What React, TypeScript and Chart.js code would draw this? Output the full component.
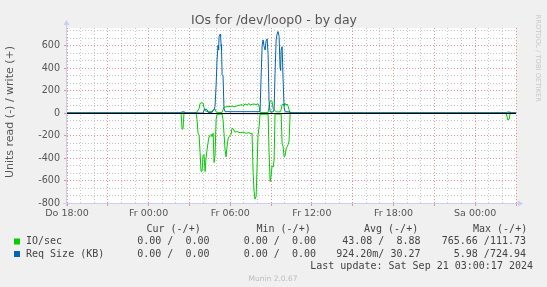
import React, { useEffect, useRef } from 'react';
import { Chart, registerables } from 'chart.js';

Chart.register(...registerables);

// ---- axis definitions (x = hours since Thu 18:00) ----
const xStartHour = 0;
const xEndHour = 33;
const xLabelHours = [0, 6, 12, 18, 24, 30];
const xLabels = ['Do 18:00', 'Fr 00:00', 'Fr 06:00', 'Fr 12:00', 'Fr 18:00', 'Sa 00:00'];
const yMin = -800;
const yMax = 756;
const yMajorStep = 200;

// ---- IO/sec write (+) ----
const ioWriteTimes = [0, 9.49, 9.71, 9.78, 9.93, 10.0, 10.07, 10.15, 10.29, 10.51, 10.66, 10.81, 10.88, 10.96, 11.1, 11.4, 11.47, 11.54, 11.69, 11.84, 11.99, 12.13, 12.28, 12.43, 12.57, 12.72, 12.87, 12.94, 13.09, 13.24, 13.38, 13.46, 13.6, 13.75, 13.9, 14.04, 14.12, 14.19, 14.78, 14.85, 14.93, 15.0, 15.07, 15.15, 15.22, 15.29, 15.37, 15.66, 15.74, 15.81, 15.88, 15.96, 16.03, 16.1, 16.18, 16.25, 16.32, 16.4, 33];
const ioWriteValues = [0, 0, 40, 85, 92, 88, 50, 20, 15, 10, 15, 30, 35, 10, 5, 5, 30, 50, 55, 60, 58, 62, 55, 60, 68, 70, 75, 65, 80, 72, 85, 70, 78, 80, 75, 82, 60, 5, 5, 60, 105, 112, 100, 40, 30, 20, 10, 10, 30, 75, 80, 65, 85, 70, 80, 60, 30, 0, 0];

// ---- IO/sec read (-) ----
const ioReadTimes = [0, 8.38, 8.46, 8.53, 8.6, 9.49, 9.56, 9.63, 9.71, 9.78, 9.85, 9.93, 10.0, 10.07, 10.15, 10.22, 10.29, 10.37, 10.44, 10.51, 10.59, 10.66, 10.74, 10.81, 10.88, 10.96, 11.03, 11.4, 11.47, 11.54, 11.62, 11.69, 11.76, 11.84, 11.91, 12.06, 12.13, 12.21, 12.35, 12.5, 12.72, 12.94, 13.16, 13.38, 13.53, 13.6, 13.68, 13.75, 13.82, 13.9, 13.97, 14.04, 14.12, 14.19, 14.78, 14.85, 14.93, 15.0, 15.07, 15.15, 15.22, 15.29, 15.74, 15.81, 15.88, 15.96, 16.03, 16.1, 16.18, 16.25, 16.32, 16.4, 32.28, 32.39, 32.5, 32.57, 33];
const ioReadValues = [0, 0, 145, 140, 0, 0, 60, 180, 200, 350, 520, 515, 380, 370, 520, 400, 330, 260, 210, 200, 190, 210, 180, 440, 380, 60, 10, 10, 60, 180, 330, 390, 300, 230, 210, 190, 135, 140, 170, 165, 175, 170, 180, 175, 185, 180, 530, 700, 766, 740, 480, 200, 120, 10, 10, 350, 610, 560, 470, 480, 420, 10, 10, 270, 300, 390, 380, 320, 300, 280, 250, 0, 0, 60, 55, 0, 0];

// ---- Req Size (KB) write (+) ----
const reqWriteTimes = [0, 8.38, 8.43, 8.64, 8.68, 10.0, 10.07, 10.22, 10.29, 10.37, 10.66, 10.74, 10.81, 10.88, 10.96, 11.03, 11.1, 11.14, 11.18, 11.25, 11.29, 11.32, 11.36, 11.4, 11.47, 11.54, 11.62, 14.12, 14.19, 14.26, 14.34, 14.41, 14.49, 14.56, 14.63, 14.71, 14.78, 14.85, 14.93, 15.15, 15.22, 15.29, 15.37, 15.44, 15.51, 15.59, 15.66, 15.7, 15.74, 15.81, 15.88, 15.96, 16.03, 16.4, 16.47, 32.28, 32.35, 32.57, 32.65, 33];
const reqWriteValues = [0, 0, 10, 10, 0, 0, 25, 35, 30, 5, 5, 25, 30, 60, 250, 480, 600, 560, 680, 700, 690, 610, 560, 340, 330, 40, 12, 12, 15, 300, 600, 650, 590, 560, 640, 660, 520, 100, 10, 10, 30, 350, 650, 700, 725, 680, 400, 380, 560, 590, 300, 50, 12, 10, 0, 0, 8, 8, 0, 0];

// ---- Req Size (KB) read (-) ----
const reqReadTimes = [0, 8.38, 8.46, 8.6, 9.56, 9.85, 10.81, 11.62, 13.82, 14.93, 15.96, 16.4, 32.28, 32.42, 32.57, 33];
const reqReadValues = [0, 0, 4, 0, 0, 5, 4, 5, 6, 5, 4, 0, 0, 4, 0, 0];

// ---- legend texts ----
const legendHeaders = ['Cur (-/+)', 'Min (-/+)', 'Avg (-/+)', 'Max (-/+)'];
const seriesNames = ['IO/sec', 'Req Size (KB)'];
const seriesColors = ['#00CC00', '#0066B3'];
const ioSecStats = ['0.00 /  0.00', '0.00 /  0.00', '43.08 /  8.88', '765.66 /111.73'];
const reqSizeStats = ['0.00 /  0.00', '0.00 /  0.00', '924.20m/ 30.27', '5.98 /724.94'];
const titleText = 'IOs for /dev/loop0 - by day';
const yAxisTitle = 'Units read (-) / write (+)';
const lastUpdate = 'Last update: Sat Sep 21 03:00:17 2024';
const footer = 'Munin 2.0.67';
const sideText = 'RRDTOOL / TOBI OETIKER';

const MAJOR = 'rgba(226,110,110,0.75)';
const MINOR = '#c9c9c9';
const AXIS = '#C8CEF4';
const TEXT = '#555555';

function toPoints(times: number[], values: number[], sign: number) {
  return times.map((t, i) => ({ x: t, y: sign * values[i] }));
}

const decorPlugin = {
  id: 'muninDecor',
  beforeDraw(chart: any) {
    const { ctx, chartArea: a } = chart;
    ctx.save();
    ctx.fillStyle = '#F0F0F0';
    ctx.fillRect(0, 0, chart.width, chart.height);
    ctx.fillStyle = '#FFFFFF';
    ctx.fillRect(a.left, a.top, a.right - a.left, a.bottom - a.top);
    ctx.restore();
  },
  afterDatasetsDraw(chart: any) {
    const { ctx, chartArea: a, scales } = chart;
    const y0 = Math.round(scales.y.getPixelForValue(0)) + 0.5;
    ctx.save();
    ctx.strokeStyle = '#000000';
    ctx.lineWidth = 1;
    ctx.beginPath();
    ctx.moveTo(a.left, y0);
    ctx.lineTo(a.right, y0);
    ctx.stroke();
    ctx.restore();
  },
  afterDraw(chart: any) {
    const { ctx, chartArea: a } = chart;
    ctx.save();
    // axes with arrows
    const ax = a.left - 0.5;
    const ay = a.bottom + 0.5;
    ctx.strokeStyle = AXIS;
    ctx.fillStyle = AXIS;
    ctx.lineWidth = 1;
    ctx.beginPath();
    ctx.moveTo(ax, a.bottom + 3);
    ctx.lineTo(ax, a.top - 3);
    ctx.moveTo(a.left - 4, ay);
    ctx.lineTo(a.right + 2, ay);
    ctx.stroke();
    ctx.beginPath();
    ctx.moveTo(ax, a.top - 8);
    ctx.lineTo(ax - 3, a.top - 3);
    ctx.lineTo(ax + 3, a.top - 3);
    ctx.closePath();
    ctx.fill();
    ctx.beginPath();
    ctx.moveTo(a.right + 7, ay);
    ctx.lineTo(a.right + 2, ay - 3);
    ctx.lineTo(a.right + 2, ay + 3);
    ctx.closePath();
    ctx.fill();

    // title
    ctx.fillStyle = TEXT;
    ctx.font = '12.5px "DejaVu Sans"';
    ctx.textAlign = 'center';
    ctx.textBaseline = 'middle';
    ctx.fillText(titleText, 274, 21);

    // y axis title
    ctx.save();
    ctx.translate(10, 112);
    ctx.rotate(-Math.PI / 2);
    ctx.font = '11px "DejaVu Sans"';
    ctx.fillText(yAxisTitle, 0, 0);
    ctx.restore();

    // side text
    ctx.save();
    ctx.translate(538, 14.5);
    ctx.rotate(Math.PI / 2);
    ctx.font = '6.8px "DejaVu Sans"';
    ctx.fillStyle = '#c6c6c6';
    ctx.textAlign = 'left';
    ctx.fillText(sideText, 0, 0);
    ctx.restore();

    // legend
    ctx.font = '10px "DejaVu Sans Mono"';
    ctx.fillStyle = '#444444';
    ctx.textAlign = 'left';
    const headerX = [146.5, 256.5, 364, 473];
    legendHeaders.forEach((h, i) => ctx.fillText(h, headerX[i], 229));
    const colRight = [209.5, 316, 420.5, 526];
    const rows = [ioSecStats, reqSizeStats];
    const rowY = [241.5, 254];
    rows.forEach((stats, r) => {
      ctx.fillStyle = seriesColors[r];
      ctx.fillRect(14, rowY[r] - 3, 6, 6);
      ctx.fillStyle = '#444444';
      ctx.textAlign = 'left';
      ctx.fillText(seriesNames[r], 26, rowY[r]);
      ctx.textAlign = 'right';
      stats.forEach((s, i) => ctx.fillText(s, colRight[i], rowY[r]));
    });
    ctx.textAlign = 'right';
    ctx.fillText(lastUpdate, 533, 266);

    ctx.font = '7.5px "DejaVu Sans"';
    ctx.fillStyle = '#bbbbbb';
    ctx.textAlign = 'center';
    ctx.fillText(footer, 273, 279.5);
    ctx.restore();
  },
};

export default function App() {
  const ref = useRef<HTMLCanvasElement | null>(null);

  useEffect(() => {
    document.body.style.margin = '0';
    const canvas = ref.current;
    if (!canvas) return;
    Chart.defaults.font.family = '"DejaVu Sans"';

    const isMajorY = (v: number) => Math.abs(Math.round(v * 3) % (yMajorStep * 3)) === 0;
    const isMajorX = (v: number) => Math.round(v) % 3 === 0;

    const chart = new Chart(canvas, {
      type: 'line',
      data: {
        datasets: [
          { label: 'Req Size write', data: toPoints(reqWriteTimes, reqWriteValues, 1), borderColor: seriesColors[1], borderWidth: 1, pointRadius: 0, tension: 0, fill: false },
          { label: 'Req Size read', data: toPoints(reqReadTimes, reqReadValues, -1), borderColor: seriesColors[1], borderWidth: 1, pointRadius: 0, tension: 0, fill: false },
          { label: 'IO write', data: toPoints(ioWriteTimes, ioWriteValues, 1), borderColor: seriesColors[0], borderWidth: 1, pointRadius: 0, tension: 0, fill: false },
          { label: 'IO read', data: toPoints(ioReadTimes, ioReadValues, -1), borderColor: seriesColors[0], borderWidth: 1, pointRadius: 0, tension: 0, fill: false },
        ],
      },
      options: {
        animation: false,
        responsive: false,
        maintainAspectRatio: false,
        devicePixelRatio: 1,
        layout: { padding: { left: 0, top: 28, right: 31, bottom: 0 } },
        plugins: { legend: { display: false }, title: { display: false }, tooltip: { enabled: false } },
        scales: {
          x: {
            type: 'linear',
            min: xStartHour,
            max: xEndHour,
            afterBuildTicks: (s: any) => {
              const t = [];
              for (let h = xStartHour; h <= xEndHour; h++) t.push({ value: h });
              s.ticks = t;
            },
            afterFit: (s: any) => { s.height = 84; },
            ticks: {
              autoSkip: false,
              maxRotation: 0,
              minRotation: 0,
              padding: 2,
              color: TEXT,
              font: { size: 9.5, family: '"DejaVu Sans"' },
              callback: (v: any) => {
                const i = xLabelHours.indexOf(Number(v));
                return i >= 0 ? xLabels[i] : '';
              },
            },
            grid: {
              color: (c: any) => (c.tick && isMajorX(c.tick.value) ? MAJOR : MINOR),
              tickColor: (c: any) => (c.tick && isMajorX(c.tick.value) ? MAJOR : 'rgba(0,0,0,0)'),
              lineWidth: 1,
              tickLength: 3,
            },
            border: { display: false, dash: [1, 2] },
          },
          y: {
            type: 'linear',
            min: yMin,
            max: yMax,
            afterBuildTicks: (s: any) => {
              const t = [];
              for (let k = -12; k * yMajorStep / 3 <= yMax; k++) t.push({ value: (k * yMajorStep) / 3 });
              s.ticks = t;
            },
            afterFit: (s: any) => { s.width = 67; },
            ticks: {
              autoSkip: false,
              padding: 4,
              color: TEXT,
              font: { size: 9.6, family: '"DejaVu Sans"' },
              callback: (v: any) => (isMajorY(Number(v)) ? String(Math.round(Number(v))) : ''),
            },
            grid: {
              color: (c: any) => (c.tick && isMajorY(c.tick.value) ? MAJOR : MINOR),
              tickColor: (c: any) => (c.tick && isMajorY(c.tick.value) ? MAJOR : 'rgba(0,0,0,0)'),
              lineWidth: 1,
              tickLength: 3,
            },
            border: { display: false, dash: [1, 2] },
          },
        },
      },
      plugins: [decorPlugin],
    } as any);

    return () => chart.destroy();
  }, []);

  return <canvas ref={ref} width={547} height={287} style={{ display: 'block', width: 547, height: 287 }} />;
}
